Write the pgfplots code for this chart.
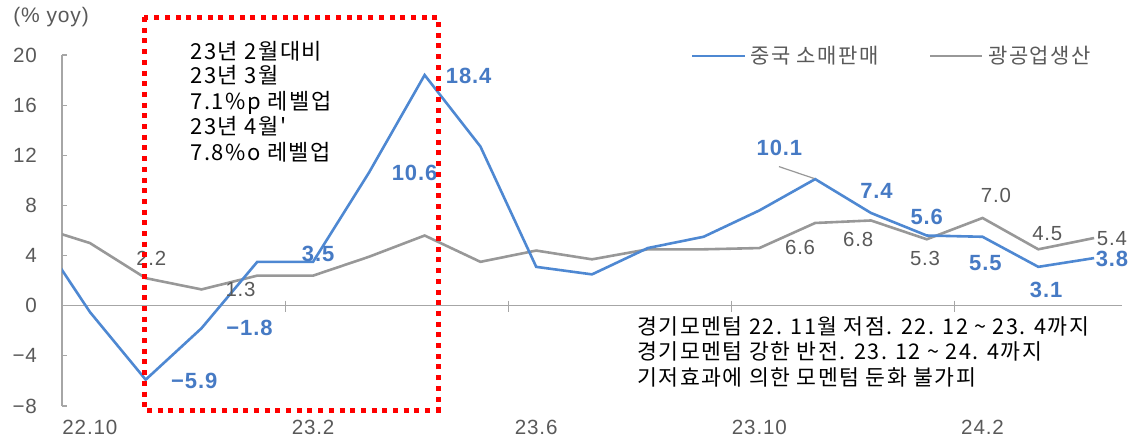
\documentclass[border=0pt]{standalone}
\usepackage{pgfplots}
\pgfplotsset{compat=1.18}
\usepackage{pgfplotstable}
\usepackage{fontspec}
\setmainfont{Liberation Sans}[LetterSpace=4]
\newfontfamily\kr{Noto Sans CJK KR}[LetterSpace=7]

\definecolor{sales}{RGB}{78,136,210}
\definecolor{saleslab}{RGB}{70,122,196}
\definecolor{ipline}{RGB}{152,152,152}
\definecolor{txtgray}{RGB}{89,89,89}
\definecolor{axgray}{RGB}{166,166,166}

% month index: 0 = 22.10 ... 18 = 24.4
\pgfplotstableread{
m   sales  ip
-1   6.2   6.4
0   -0.5   5.0
1   -5.9   2.2
2   -1.8   1.3
3    3.5   2.4
4    3.5   2.4
5   10.6   3.9
6   18.4   5.6
7   12.7   3.5
8    3.1   4.4
9    2.5   3.7
10   4.6   4.5
11   5.5   4.5
12   7.6   4.6
13  10.1   6.6
14   7.4   6.8
15   5.6   5.3
16   5.5   7.0
17   3.1   4.5
18   3.8   5.4
}\data

\begin{document}
\begin{tikzpicture}
\path[use as bounding box] (0,0) rectangle (565pt,220.5pt);

\begin{axis}[
    at={(31pt,17.5pt)}, anchor=south west,
    scale only axis, width=530pt, height=175.5pt,
    xmin=-0.5, xmax=18.5, ymin=-8, ymax=20,
    clip mode=individual,
    axis lines*=left,
    x axis line style={draw=none},
    y axis line style={axgray, line width=0.6pt},
    ytick={-8,-4,0,4,8,12,16,20},
    yticklabels={−8,−4,0,4,8,12,16,20},
    ytick align=inside, major tick length=2.5pt,
    ytick style={axgray, line width=0.6pt},
    xtick={0,4,8,12,16},
    xticklabels={22.10,23.2,23.6,23.10,24.2},
    xtick style={draw=none},
    tick label style={font=\fontsize{10.3}{12}\selectfont, text=txtgray},
    yticklabel style={xshift=-9pt},
    xticklabel style={yshift=-3.5pt},
]
\draw[axgray, line width=0.6pt] (axis cs:-0.5,0) -- (axis cs:18.5,0);
\draw[axgray, line width=0.6pt] (axis cs:3.5,0.4) -- (axis cs:3.5,-0.5);
\draw[axgray, line width=0.6pt] (axis cs:7.5,0.4) -- (axis cs:7.5,-0.5);
\draw[axgray, line width=0.6pt] (axis cs:11.5,0.4) -- (axis cs:11.5,-0.5);
\draw[axgray, line width=0.6pt] (axis cs:15.5,0.4) -- (axis cs:15.5,-0.5);

\addplot[ipline, line width=1.3pt] table[x=m, y=ip] {\data};
\addplot[sales, line width=1.3pt] table[x=m, y=sales] {\data};

% leader line for 10.1
\draw[ipline, line width=0.6pt] (axis cs:12.35,11.1) -- (axis cs:12.98,10.15);

% data labels, sales
\node[text=saleslab, font=\fontsize{11}{13}\bfseries\selectfont] at (axis cs:1.87,-5.97) {−5.9};
\node[text=saleslab, font=\fontsize{11}{13}\bfseries\selectfont] at (axis cs:2.86,-1.81) {−1.8};
\node[text=saleslab, font=\fontsize{11}{13}\bfseries\selectfont] at (axis cs:4.09,4.1) {3.5};
\node[text=saleslab, font=\fontsize{11}{13}\bfseries\selectfont] at (axis cs:5.82,10.56) {10.6};
\node[text=saleslab, font=\fontsize{11}{13}\bfseries\selectfont] at (axis cs:6.79,18.3) {18.4};
\node[text=saleslab, font=\fontsize{11}{13}\bfseries\selectfont] at (axis cs:12.36,12.56) {10.1};
\node[text=saleslab, font=\fontsize{11}{13}\bfseries\selectfont] at (axis cs:14.1,9.13) {7.4};
\node[text=saleslab, font=\fontsize{11}{13}\bfseries\selectfont] at (axis cs:15.0,7.05) {5.6};
\node[text=saleslab, font=\fontsize{11}{13}\bfseries\selectfont] at (axis cs:16.05,3.37) {5.5};
\node[text=saleslab, font=\fontsize{11}{13}\bfseries\selectfont] at (axis cs:17.14,1.22) {3.1};
\node[text=saleslab, font=\fontsize{11}{13}\bfseries\selectfont] at (axis cs:18.32,3.77) {3.8};

% data labels, industrial production
\node[text=txtgray, font=\fontsize{10.2}{12}\selectfont] at (axis cs:1.1,3.77) {2.2};
\node[text=txtgray, font=\fontsize{10.2}{12}\selectfont] at (axis cs:2.7,1.3) {1.3};
\node[text=txtgray, font=\fontsize{10.2}{12}\selectfont] at (axis cs:12.73,4.66) {6.6};
\node[text=txtgray, font=\fontsize{10.2}{12}\selectfont] at (axis cs:13.77,5.3) {6.8};
\node[text=txtgray, font=\fontsize{10.2}{12}\selectfont] at (axis cs:14.97,3.77) {5.3};
\node[text=txtgray, font=\fontsize{10.2}{12}\selectfont] at (axis cs:16.24,8.8) {7.0};
\node[text=txtgray, font=\fontsize{10.2}{12}\selectfont] at (axis cs:17.16,5.78) {4.5};
\node[text=txtgray, font=\fontsize{10.2}{12}\selectfont] at (axis cs:18.32,5.37) {5.4};
\end{axis}

% unit label
\node[anchor=west, text=txtgray, font=\fontsize{10.5}{12}\selectfont, inner sep=0pt] at (6.5pt,212pt) {(\% yoy)};

% legend
\draw[sales, line width=1.3pt] (346pt,192.5pt) -- (372.5pt,192.5pt);
\node[anchor=west, inner sep=0pt, text=txtgray, font=\kr\fontsize{10.5}{12}\selectfont] at (375pt,192.5pt) {중국 소매판매};
\draw[ipline, line width=1.3pt] (465pt,192.5pt) -- (491pt,192.5pt);
\node[anchor=west, inner sep=0pt, text=txtgray, font=\kr\fontsize{10.5}{12}\selectfont] at (494pt,192.5pt) {광공업생산};

% annotation in red box
\begin{scope}[every node/.style={anchor=base west, inner sep=0pt, font=\kr\fontsize{11}{12}\selectfont}]
\node at (95pt,190.75pt) {23년 2월대비};
\node at (95pt,178.75pt) {23년 3월};
\node at (95pt,165.75pt) {7.1\%p 레벨업};
\node at (95pt,153.25pt) {23년 4월'};
\node at (95pt,140.25pt) {7.8\%o 레벨업};
\end{scope}
\begin{scope}[every node/.style={anchor=base west, inner sep=0pt, font=\kr\fontsize{10.8}{12}\selectfont}]
\node at (318.5pt,53.25pt) {경기모멘텀 22. 11월 저점. 22. 12 \textasciitilde{} 23. 4까지};
\node at (318.5pt,40.75pt) {경기모멘텀 강한 반전. 23. 12 \textasciitilde{} 24. 4까지};
\node at (318.5pt,27.75pt) {기저효과에 의한 모멘텀 둔화 불가피};
\end{scope}

\draw[red, line width=2.5pt, dash pattern=on 2.5pt off 2.85pt] (72pt,212pt) rectangle (219pt,15.5pt);
\end{tikzpicture}
\end{document}
